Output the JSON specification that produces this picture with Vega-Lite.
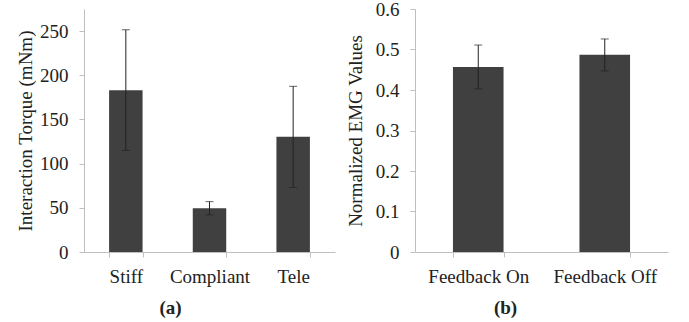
{
  "$schema": "https://vega.github.io/schema/vega-lite/v6.json",
  "padding": {"left": 15, "top": 0, "right": 5, "bottom": 5},
  "background": "white",
  "config": {
    "font": "Liberation Serif",
    "view": {"stroke": null},
    "axis": {
      "domainColor": "#bfbfbf",
      "tickColor": "#bfbfbf",
      "labelColor": "#222222",
      "titleColor": "#222222",
      "labelFont": "Liberation Serif",
      "titleFont": "Liberation Serif",
      "labelFontSize": 19,
      "grid": false
    }
  },
  "datasets": {
    "a": [
      {"cond": "Stiff", "mean": 183, "lo": 115, "hi": 251.5},
      {"cond": "Compliant", "mean": 49.5, "lo": 42, "hi": 57},
      {"cond": "Tele", "mean": 130.5, "lo": 73, "hi": 187.5}
    ],
    "b": [
      {"cond": "Feedback On", "mean": 0.457, "lo": 0.403, "hi": 0.511},
      {"cond": "Feedback Off", "mean": 0.487, "lo": 0.447, "hi": 0.526}
    ]
  },
  "hconcat": [
    {
      "width": 251,
      "height": 243,
      "data": {"name": "a"},
      "encoding": {
        "x": {
          "field": "cond", "type": "nominal", "sort": null,
          "scale": {"paddingInner": 0.6, "paddingOuter": 0.3},
          "axis": {
            "title": "(a)", "labelAngle": 0, "tickSize": 5, "tickBand": "extent",
            "labelPadding": 10, "titleFontWeight": "bold", "titleFontSize": 19,
            "titleX": 86, "titleY": 55, "titleBaseline": "middle", "titleAlign": "center"
          }
        }
      },
      "layer": [
        {
          "mark": {"type": "bar", "color": "#404040"},
          "encoding": {
            "y": {
              "field": "mean", "type": "quantitative", "title": "Interaction Torque (mNm)",
              "scale": {"domain": [0, 275], "nice": false},
              "axis": {
                "values": [0, 50, 100, 150, 200, 250], "tickSize": 5, "labelPadding": 11,
                "titleFontSize": 19, "titleFontWeight": "normal", "titleX": -59, "titleBaseline": "middle"
              }
            }
          }
        },
        {
          "mark": {"type": "rule", "color": "#222222", "strokeWidth": 1},
          "encoding": {
            "y": {"field": "lo", "type": "quantitative", "title": "Interaction Torque (mNm)"},
            "y2": {"field": "hi"}
          }
        },
        {
          "mark": {"type": "tick", "color": "#222222", "size": 8, "thickness": 1},
          "encoding": {"y": {"field": "lo", "type": "quantitative", "title": "Interaction Torque (mNm)"}}
        },
        {
          "mark": {"type": "tick", "color": "#222222", "size": 8, "thickness": 1},
          "encoding": {"y": {"field": "hi", "type": "quantitative", "title": "Interaction Torque (mNm)"}}
        }
      ]
    },
    {
      "width": 253,
      "height": 243,
      "data": {"name": "b"},
      "encoding": {
        "x": {
          "field": "cond", "type": "nominal", "sort": null,
          "scale": {"paddingInner": 0.6, "paddingOuter": 0.3},
          "axis": {
            "title": "(b)", "labelAngle": 0, "tickSize": 5, "tickBand": "extent",
            "labelPadding": 10, "titleFontWeight": "bold", "titleFontSize": 19,
            "titleX": 90, "titleY": 55, "titleBaseline": "middle", "titleAlign": "center"
          }
        }
      },
      "layer": [
        {
          "mark": {"type": "bar", "color": "#404040"},
          "encoding": {
            "y": {
              "field": "mean", "type": "quantitative", "title": "Normalized EMG Values",
              "scale": {"domain": [0, 0.6], "nice": false},
              "axis": {
                "values": [0, 0.1, 0.2, 0.3, 0.4, 0.5, 0.6], "tickSize": 5, "labelPadding": 11,
                "labelExpr": "datum.value == 0 ? '0' : format(datum.value, '.1f')",
                "titleFontSize": 19, "titleFontWeight": "normal", "titleX": -60, "titleBaseline": "middle"
              }
            }
          }
        },
        {
          "mark": {"type": "rule", "color": "#222222", "strokeWidth": 1},
          "encoding": {
            "y": {"field": "lo", "type": "quantitative", "title": "Normalized EMG Values"},
            "y2": {"field": "hi"}
          }
        },
        {
          "mark": {"type": "tick", "color": "#222222", "size": 8, "thickness": 1},
          "encoding": {"y": {"field": "lo", "type": "quantitative", "title": "Normalized EMG Values"}}
        },
        {
          "mark": {"type": "tick", "color": "#222222", "size": 8, "thickness": 1},
          "encoding": {"y": {"field": "hi", "type": "quantitative", "title": "Normalized EMG Values"}}
        }
      ]
    }
  ],
  "spacing": 10
}
